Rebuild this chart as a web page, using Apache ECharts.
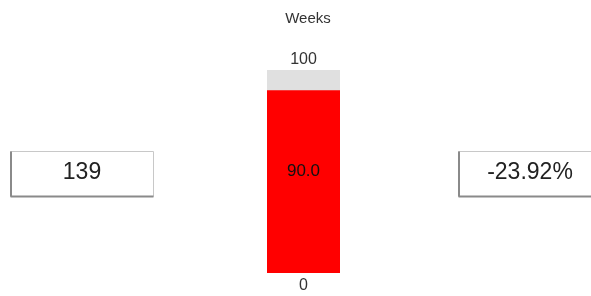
<!DOCTYPE html>
<html>
<head>
<meta charset="utf-8">
<script src="https://cdn.jsdelivr.net/npm/echarts@6/dist/echarts.min.js"></script>
<style>html,body{margin:0;padding:0;background:#fff;}#c{width:591px;height:296px;}</style>
</head>
<body>
<div id="c"></div>
<script>
var titleText = 'Weeks';
var categories = ['Weeks'];
var barValues = [90.0];
var axisMin = 0;
var axisMax = 100;
var topTickLabels = ['100'];
var bottomTickLabels = ['0'];
var leftKpi = '139';
var rightKpi = '-23.92%';

var FONT = '"Liberation Sans", Arial, sans-serif';
var chart = echarts.init(document.getElementById('c'));

function kpiBox(x, y, w, h, text) {
  return {
    type: 'group', left: x, top: y,
    children: [
      { type: 'rect', shape: { x: 0, y: 0, width: w, height: h },
        style: { fill: '#fff', stroke: '#c8c8c8', lineWidth: 1 } },
      { type: 'line', shape: { x1: 0.5, y1: 0, x2: 0.5, y2: h },
        style: { stroke: '#8a8a8a', lineWidth: 2 } },
      { type: 'line', shape: { x1: 0, y1: h, x2: w, y2: h },
        style: { stroke: '#8a8a8a', lineWidth: 2 } },
      { type: 'text', x: w / 2, y: h / 2 - 1,
        style: { text: text, fill: '#222', font: '23px ' + FONT, align: 'center', verticalAlign: 'middle' } }
    ]
  };
}

chart.setOption({
  animation: false,
  title: {
    text: titleText, left: 303, top: 6, textAlign: 'center',
    textStyle: { fontFamily: FONT, fontSize: 15, fontWeight: 'normal', color: '#333' }
  },
  grid: { left: 267, top: 70, width: 73, height: 203 },
  xAxis: [
    { type: 'category', data: categories, show: false },
    { type: 'category', data: topTickLabels, position: 'top', gridIndex: 0,
      axisLine: { show: false }, axisTick: { show: false },
      axisLabel: { margin: 2, fontFamily: FONT, fontSize: 16, color: '#333' } },
    { type: 'category', data: bottomTickLabels, position: 'bottom', gridIndex: 0,
      axisLine: { show: false }, axisTick: { show: false },
      axisLabel: { margin: 5, fontFamily: FONT, fontSize: 16, color: '#333' } }
  ],
  yAxis: { type: 'value', min: axisMin, max: axisMax, show: false },
  series: [
    { type: 'bar', xAxisIndex: 0, barWidth: '100%', barGap: '-100%',
      data: barValues.map(function () { return axisMax; }),
      itemStyle: { color: '#e0e0e0' }, silent: true, z: 1 },
    { type: 'bar', xAxisIndex: 0, barWidth: '100%', barGap: '-100%',
      data: barValues, itemStyle: { color: '#ff0000' }, z: 2 },
    { type: 'bar', xAxisIndex: 0, barWidth: '100%', barGap: '-100%',
      data: barValues.map(function () { return axisMax; }),
      itemStyle: { color: 'rgba(0,0,0,0)' }, silent: true, z: 3,
      label: { show: true, position: 'inside', fontFamily: FONT, fontSize: 17, color: '#111',
        formatter: function (p) { return barValues[p.dataIndex].toFixed(1); } } }
  ],
  graphic: [
    kpiBox(8, 149, 143, 45, leftKpi),
    kpiBox(456, 149, 143, 45, rightKpi)
  ]
});
</script>
</body>
</html>
